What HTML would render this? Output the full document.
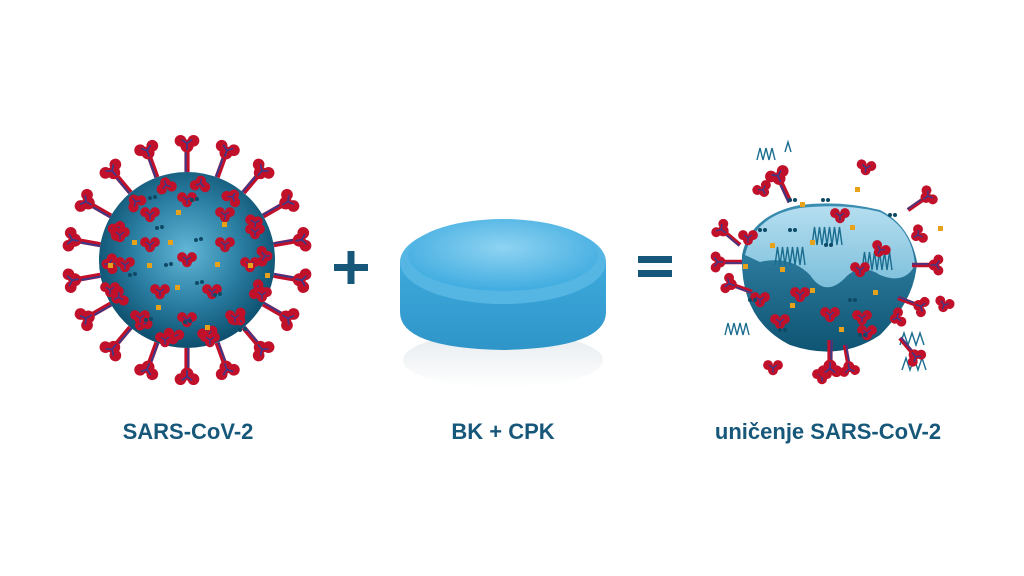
<!DOCTYPE html>
<html><head><meta charset="utf-8"><style>
html,body{margin:0;padding:0;background:#fff;}
svg{display:block}
text{font-family:"Liberation Sans",sans-serif;font-weight:bold;fill:#17587a;font-size:22px;}
</style></head><body>
<svg id="s" width="1024" height="576" viewBox="0 0 1024 576">
<defs>
<radialGradient id="vg" cx="0.5" cy="0.45" r="0.55">
<stop offset="0" stop-color="#62b6d6"/><stop offset="0.55" stop-color="#2a7fa3"/><stop offset="1" stop-color="#0d4e6d"/>
</radialGradient>
<linearGradient id="tg" x1="0" y1="0" x2="0" y2="1">
<stop offset="0" stop-color="#3ea9dc"/><stop offset="1" stop-color="#2f95c9"/>
</linearGradient>
<radialGradient id="tt" cx="0.5" cy="0.4" r="0.6">
<stop offset="0" stop-color="#8fd3f2"/><stop offset="1" stop-color="#40ace0"/>
</radialGradient>
<linearGradient id="sh" x1="0" y1="0" x2="0" y2="1">
<stop offset="0" stop-color="#b5def0"/><stop offset="1" stop-color="#7cbfdb"/>
</linearGradient>
<linearGradient id="sb" x1="0" y1="0" x2="0" y2="1">
<stop offset="0" stop-color="#3b8fb3"/><stop offset="1" stop-color="#0f5473"/>
</linearGradient>
<linearGradient id="ref" x1="0" y1="0" x2="0" y2="1">
<stop offset="0" stop-color="#dfe6ea"/><stop offset="1" stop-color="#fff"/>
</linearGradient>
<g id="sp"><path d="M-2,0 L-2,-16 L2,-16 L2,0Z" fill="#c0102a"/><path d="M-1,0 L-1,-16" stroke="#3b3a8a" stroke-width="1.5"/>
<circle cx="0" cy="-20" r="5" fill="#c0102a"/><circle cx="-5" cy="-24" r="4.5" fill="#c0102a"/><circle cx="5" cy="-24" r="4.5" fill="#c0102a"/><path d="M0,-17 L0,-22 M0,-22 L-4,-25 M0,-22 L4,-25" stroke="#3b3a8a" stroke-width="1.3"/></g>
<g id="cl"><circle cx="0" cy="2" r="4.3" fill="#c0102a"/><circle cx="-4.3" cy="-2.5" r="4.3" fill="#c0102a"/><circle cx="4.3" cy="-2.5" r="4.3" fill="#c0102a"/><path d="M0,0 L0,4 M0,0 L-3.5,-2.5 M0,0 L3.5,-2.5" stroke="#3b3a8a" stroke-width="1.2"/></g>
</defs>
<g id="v1"></g>
<rect x="334" y="264" width="34" height="7" fill="#17587a"/><rect x="347.5" y="251" width="7" height="33" fill="#17587a"/>
<ellipse cx="503" cy="360" rx="100" ry="28" fill="url(#ref)" opacity="0.8"/>
<path d="M400,262 L400,312 Q400,348 503,350 Q606,348 606,312 L606,262Z" fill="url(#tg)"/>
<ellipse cx="503" cy="262" rx="103" ry="42" fill="#55b6e4"/>
<ellipse cx="503" cy="255" rx="95" ry="36" fill="url(#tt)"/>
<rect x="638" y="256" width="34" height="7" fill="#17587a"/><rect x="638" y="270" width="34" height="7" fill="#17587a"/>
<path d="M742,255 Q740,320 790,345 Q840,362 880,335 Q915,300 917,262 Q910,225 880,210 Q840,200 800,205 Q750,215 742,255Z" fill="url(#sb)"/>
<path d="M745,255 Q755,215 800,208 Q845,203 880,212 Q912,228 915,265 Q905,285 880,275 Q860,262 845,278 Q825,298 810,275 Q790,255 760,262Z" fill="url(#sh)"/>
<g id="v2" fill="none" stroke="#1a6d8f" stroke-width="1.4"></g>
<g id="v3"></g>
<text x="188" y="439" text-anchor="middle">SARS-CoV-2</text>
<text x="503" y="439" text-anchor="middle">BK + CPK</text>
<text x="828" y="439" text-anchor="middle">uničenje SARS-CoV-2</text>
</svg>
<script>
var NS="http://www.w3.org/2000/svg";
function el(p,t,a){var e=document.createElementNS(NS,t);for(var k in a)e.setAttribute(k,a[k]);p.appendChild(e);return e;}
var v1=document.getElementById('v1');
var cx=187,cy=260,R=88;
for(var i=0;i<18;i++){var a=i*20;var r=a*Math.PI/180;
 el(v1,'use',{href:'#sp',transform:'translate('+(cx+Math.sin(r)*(R))+','+(cy-Math.cos(r)*(R))+') rotate('+a+') scale(1.3)'});}
el(v1,'circle',{cx:cx,cy:cy,r:R,fill:'url(#vg)'});
for(var i=0;i<14;i++){var a=i*360/14+10;var r=a*Math.PI/180;
 el(v1,'use',{href:'#cl',transform:'translate('+(cx+Math.sin(r)*(R-10))+','+(cy-Math.cos(r)*(R-10))+') rotate('+(a+180)+') scale(1.2)'});}
var pts=[[187,260],[150,245],[225,245],[125,265],[250,265],[160,292],[212,292],[140,318],[235,318],[187,320],[187,200],[150,215],[225,215],[120,235],[255,232],[110,290],[262,295],[165,340],[210,340]];
pts.forEach(function(p){el(v1,'use',{href:'#cl',transform:'translate('+p[0]+','+p[1]+') scale(1.15)'});});
[[176,210],[222,222],[132,240],[168,240],[215,262],[108,263],[147,263],[248,263],[175,285],[265,273],[156,305],[205,325]].forEach(function(p){el(v1,'rect',{x:p[0],y:p[1],width:5,height:5,fill:'#e8a21a'});});
[[150,198],[192,200],[157,228],[196,240],[166,265],[197,283],[130,275],[215,295],[146,320],[185,322],[240,330]].forEach(function(p){el(v1,'circle',{cx:p[0],cy:p[1],r:2,fill:'#0e4a66'});el(v1,'circle',{cx:p[0]+5,cy:p[1]-1,r:2,fill:'#0e4a66'});});
var v2=document.getElementById('v2');
function zig(x,y,n,w,h){var d='M'+x+','+y;for(var i=0;i<n;i++){d+=' L'+(x+i*w+w/2)+','+(y-h)+' L'+(x+(i+1)*w)+','+y;}el(v2,'path',{d:d});}
zig(757,160,3,6,12);zig(785,152,1,6,10);zig(812,245,6,5,18);zig(775,265,6,5,18);zig(862,270,6,5,18);zig(725,335,4,6,12);zig(900,345,3,8,12);zig(902,370,3,8,12);
var v3=document.getElementById('v3');
[[763,190,-30],[866,168,10],[840,216,0],[860,270,0],[880,250,30],[800,295,0],[760,300,0],[830,315,0],[862,318,0],[780,322,0],[867,333,0],[944,305,20],[773,368,0],[822,377,0],[918,235,60],[897,318,70],[748,238,0]].forEach(function(p){el(v3,'use',{href:'#cl',transform:'translate('+p[0]+','+p[1]+') rotate('+p[2]+') scale(1.15)'});});
[[790,202,-25,1.3],[742,262,-90,1.1],[752,292,-70,1.1],[912,265,90,1.1],[898,298,110,1.1],[908,210,55,1.1],[830,340,180,1.3],[845,345,170,1.1],[900,338,140,1.1],[740,245,-50,1.1]].forEach(function(p){el(v3,'use',{href:'#sp',transform:'translate('+p[0]+','+p[1]+') rotate('+p[2]+') scale('+p[3]+')'});});
[[800,202],[855,187],[850,225],[770,243],[810,240],[743,264],[780,267],[810,288],[790,303],[839,327],[873,290],[938,226]].forEach(function(p){el(v3,'rect',{x:p[0],y:p[1],width:5,height:5,fill:'#e8a21a'});});
[[790,200],[823,200],[760,230],[790,230],[826,245],[750,300],[780,330],[850,300],[890,215],[860,335]].forEach(function(p){el(v3,'circle',{cx:p[0],cy:p[1],r:2,fill:'#0e4a66'});el(v3,'circle',{cx:p[0]+5,cy:p[1],r:2,fill:'#0e4a66'});});
</script>
</body></html>
